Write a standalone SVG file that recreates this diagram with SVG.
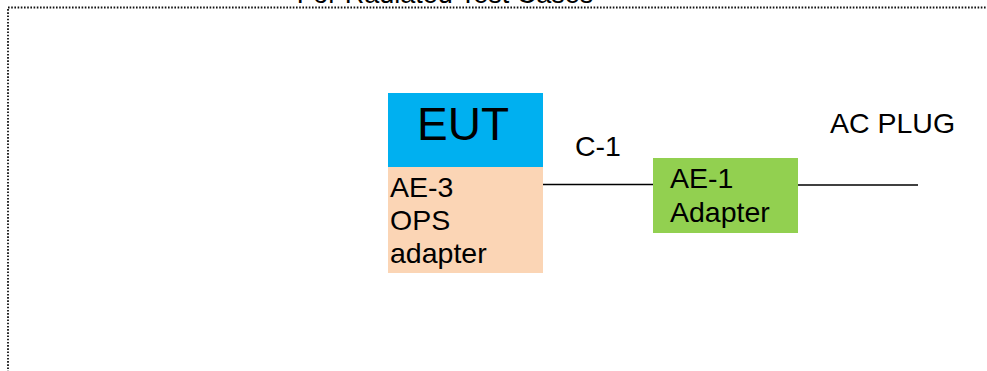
<svg xmlns="http://www.w3.org/2000/svg" width="987" height="371" viewBox="0 0 987 371">
<style>
text{font-family:"Liberation Sans",Arial,sans-serif;fill:#000;}
.t{font-size:28.5px;}
.conn{stroke:#000;stroke-width:1.6;fill:none;}
</style>
<rect width="987" height="371" fill="#fff"/>
<g id="frame">
<rect x="8" y="7.5" width="1000" height="400" fill="none" stroke="#111" stroke-width="1.8" stroke-dasharray="1.6 1.6"/>
<text x="445" y="3" font-size="27" text-anchor="middle">For Radiated Test Cases</text>
</g>
<g id="connectors">
<line class="conn" x1="543" y1="184.5" x2="653" y2="184.5"/>
<line class="conn" x1="798" y1="185" x2="918" y2="185"/>
</g>
<g id="eut">
<rect x="388" y="93" width="155" height="74" fill="#00B0F0"/>
<text x="463" y="140" font-size="46" text-anchor="middle">EUT</text>
</g>
<g id="ae3">
<rect x="388" y="167" width="155" height="106" fill="#FBD5B5"/>
<text class="t" x="390" y="197">AE-3</text>
<text class="t" x="390" y="230">OPS</text>
<text class="t" x="390" y="263">adapter</text>
</g>
<g id="ae1">
<rect x="653" y="158" width="145" height="75" fill="#92D050"/>
<text class="t" x="670" y="188">AE-1</text>
<text class="t" x="670" y="222">Adapter</text>
</g>
<g id="labels">
<text class="t" x="575" y="156">C-1</text>
<text class="t" x="830" y="133">AC PLUG</text>
</g>
</svg>
